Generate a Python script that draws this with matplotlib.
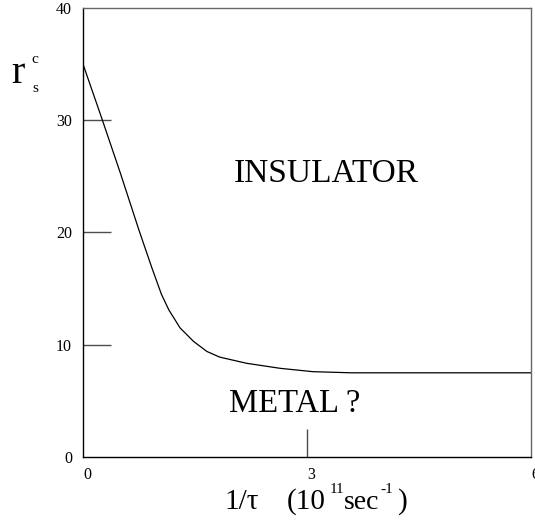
import matplotlib
matplotlib.use("Agg")
import matplotlib.pyplot as plt

plt.rcParams["font.family"] = ["Liberation Serif", "DejaVu Serif"]

# critical r_s versus scattering rate 1/tau
inv_tau = [0.0, 0.25, 0.5, 0.75, 0.92, 1.05, 1.15, 1.3, 1.48, 1.66, 1.83,
           2.19, 2.64, 3.08, 3.6, 4.5, 6.0]
rs_c = [35.0, 30.2, 25.3, 20.2, 16.9, 14.5, 13.1, 11.5, 10.3, 9.4, 8.9,
        8.35, 7.9, 7.6, 7.5, 7.5, 7.5]

x_ticks = [0, 3, 6]
y_ticks = [0, 10, 20, 30, 40]
x_marks = [3]
y_marks = [10, 20, 30]

fig = plt.figure(figsize=(5.35, 5.25), dpi=100)
ax = fig.add_axes([83 / 535, 68 / 525, 448 / 535, 449 / 525])

ax.plot(inv_tau, rs_c, color="black", lw=0.9)
ax.set_xlim(0, 6)
ax.set_ylim(0, 40)

# labels on major ticks, visible marks only on the minor ones
ax.xaxis.remove_overlapping_locs = False
ax.yaxis.remove_overlapping_locs = False
ax.set_xticks(x_ticks)
ax.set_yticks(y_ticks)
ax.set_xticks(x_marks, minor=True)
ax.set_yticks(y_marks, minor=True)
ax.tick_params(which="major", length=0, labelsize=11.5)
ax.tick_params(axis="y", which="major", pad=8)
ax.tick_params(axis="x", which="major", pad=7)
ax.tick_params(which="minor", direction="in", length=20, width=1.0, color="0.3")
for lab in ax.get_xticklabels():
    lab.set_horizontalalignment("left")

for s in ax.spines.values():
    s.set_linewidth(1.0)
ax.spines["top"].set_color("0.4")
ax.spines["right"].set_color("0.4")

ax.text(3.26, 25.2, "INSULATOR", fontsize=24, ha="center", va="center")
ax.text(2.84, 4.7, "METAL ?", fontsize=23.5, ha="center", va="center")

# y label r_s^c
fig.text(11 / 535, 1 - 83 / 525, "r", fontsize=29, ha="left", va="baseline")
fig.text(35 / 535, 1 - 63 / 525, "c", fontsize=11, ha="center", va="baseline")
fig.text(35 / 535, 1 - 92 / 525, "s", fontsize=11, ha="center", va="baseline")

# x label: 1/tau (10^11 sec^-1)
base = 1 - 509 / 525
sup = 1 - 493 / 525
fig.text(224 / 535, base, "1/τ", fontsize=21, ha="left", va="baseline")
fig.text(287 / 535, base, "(10", fontsize=21, ha="left", va="baseline")
fig.text(330 / 535, sup, "11", fontsize=11, ha="left", va="baseline")
fig.text(344 / 535, base, "sec", fontsize=20, ha="left", va="baseline")
fig.text(380 / 535, sup, "-1", fontsize=11, ha="left", va="baseline")
fig.text(398 / 535, base, ")", fontsize=21, ha="left", va="baseline")

fig.savefig("out.png", dpi=100)
